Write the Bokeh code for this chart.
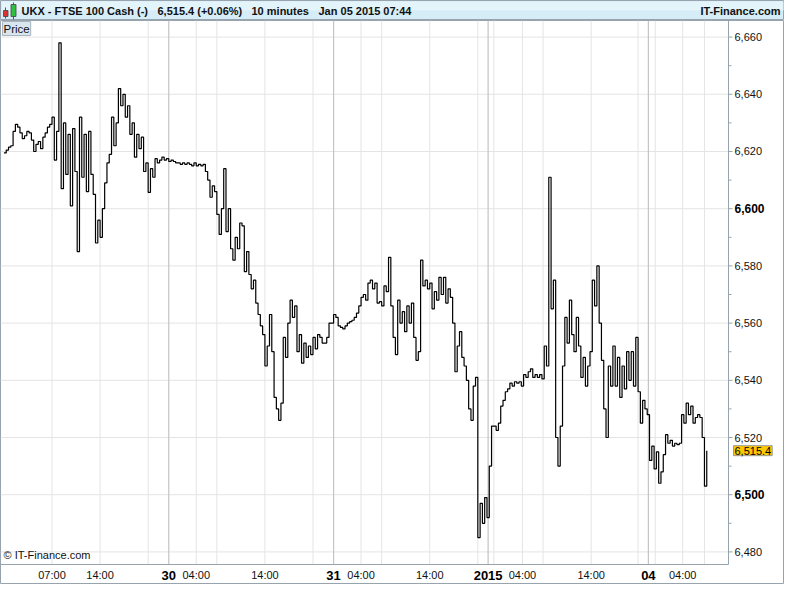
from bokeh.plotting import figure
from bokeh.models import Label, Range1d
from bokeh.layouts import column
from bokeh.core.properties import value
from bokeh.embed import file_html
from bokeh.resources import INLINE

# ---------------- data (10-minute bars, sampled every 20 minutes) ----------------
start_bar = 3          # bar index of the first sample (Dec 29, 00:00)
step_bars = 2          # 20 minutes per sample
price = [
    6619.5, 6620.5, 6621.5, 6622, 6627, 6629.5, 6628.5, 6626.5, 6624.5, 6625.5,
    6627, 6626.5, 6624, 6620, 6622.5, 6623.5, 6621, 6625, 6626.5, 6628.5,
    6629.5, 6632, 6617, 6627, 6658, 6607, 6630, 6612, 6626, 6601,
    6628, 6613, 6585, 6632, 6611, 6626, 6606, 6627, 6612, 6605,
    6588, 6596, 6590, 6600, 6609, 6616, 6619, 6632, 6622, 6630,
    6642, 6636, 6640, 6632, 6636, 6626, 6630, 6618, 6626, 6621,
    6625, 6613, 6616, 6605.7, 6614, 6611, 6617.5, 6616, 6617, 6618,
    6617, 6617.5, 6616.5, 6617, 6616.5, 6616, 6616, 6615.5, 6616, 6615.5,
    6616, 6615.5, 6615, 6616, 6615, 6615.5, 6615, 6615.5, 6613, 6610,
    6604, 6608, 6606, 6598, 6591, 6600, 6614, 6592, 6600, 6586,
    6582, 6590, 6586, 6595, 6594, 6578, 6585, 6577, 6572, 6575,
    6567, 6563, 6559, 6556, 6545, 6552, 6563, 6550, 6534, 6530,
    6526, 6532, 6555, 6548, 6560, 6568, 6562, 6566, 6550, 6556,
    6546, 6553, 6548, 6552, 6549, 6555, 6551, 6556, 6555, 6553,
    6553, 6555, 6560, 6560, 6563, 6562, 6559, 6558.5, 6558, 6559,
    6560, 6560.5, 6561, 6562, 6563.5, 6566, 6569, 6570, 6568, 6574,
    6575, 6572, 6574, 6567, 6567.5, 6566, 6573, 6571, 6583, 6566,
    6555, 6549, 6568, 6560, 6564, 6557, 6566, 6560, 6567, 6555,
    6547, 6550, 6582, 6573, 6575, 6572, 6574, 6565, 6571, 6568,
    6576, 6570, 6576, 6567, 6572, 6569, 6560, 6543, 6552, 6557,
    6548, 6545, 6540, 6530, 6526, 6538, 6541, 6485, 6497, 6490,
    6499, 6492, 6510, 6524, 6524, 6522.5, 6525, 6531, 6533, 6536,
    6537, 6539, 6538, 6539.5, 6539, 6539.5, 6538, 6542, 6541, 6543,
    6544, 6541, 6542, 6541, 6542, 6540.5, 6552, 6545, 6611, 6565,
    6575, 6520, 6510, 6524, 6545, 6562, 6553, 6568, 6556, 6550,
    6562, 6552, 6541, 6548, 6538, 6545, 6550, 6575, 6566, 6580,
    6560, 6547, 6530, 6520, 6545, 6538, 6552, 6538, 6548, 6534,
    6545, 6537, 6550, 6540, 6550, 6538, 6555, 6536, 6525, 6533,
    6530, 6528, 6512, 6517, 6509, 6515, 6504, 6508, 6514, 6521,
    6518, 6519, 6517, 6518, 6517.5, 6518, 6528, 6525, 6532, 6528,
    6531, 6525, 6527, 6528, 6527, 6520, 6503, 6515.4,
]
bars = [start_bar + step_bars * i for i in range(len(price))]
last_price = 6515.4

# vertical grid positions (bar index) and their labels
grid_bars = [45, 87, 129, 147, 171, 189, 231, 273, 291, 315, 333, 375,
             417, 426, 431, 456, 474, 516, 557, 566, 572, 596, 615]
time_labels = {45: "07:00", 87: "14:00", 171: "04:00", 231: "14:00",
               315: "04:00", 375: "14:00", 456: "04:00", 516: "14:00", 596: "04:00"}
day_labels = {147: "30", 291: "31", 426: "2015", 566: "04"}

y_ticks = [6480, 6500, 6520, 6540, 6560, 6580, 6600, 6620, 6640, 6660]
y_minor = [6490, 6510, 6530, 6550, 6570, 6590, 6610, 6630, 6650]
bold_y = [6600, 6500]

title_parts = ["UKX - FTSE 100 Cash (-)", "6,515.4 (+0.06%)", "10 minutes", "Jan 05 2015 07:44"]
brand = "IT-Finance.com"

FONT = value("Liberation Sans")
W = 784
H_MAIN = 564
CHART_W = 728      # width of the price area in px
CHART_H = 544      # height of the price area in px
X0, X1 = 0, 636
Y0, Y1 = 6475.6, 6665.8

xpp = (X1 - X0) / CHART_W          # bars per pixel
ypp = (Y1 - Y0) / CHART_H          # price units per pixel
XR = (X0, X0 + W * xpp)
YR = (Y1 - H_MAIN * ypp, Y1)

AXIS_C = "#98a4ad"
GRID_C = "#e4e4e4"
DAY_C = "#c4c4c4"

# ---------------- header ----------------
hdr = figure(width=W, height=20, x_range=Range1d(0, W), y_range=Range1d(0, 20),
             toolbar_location=None, output_backend="svg",
             x_axis_location=None, y_axis_location=None, min_border=0)
hdr.grid.visible = False
hdr.background_fill_color = "#d6edf7"
hdr.border_fill_color = "#d6edf7"
hdr.outline_line_color = AXIS_C
hdr.quad(left=[1], right=[W - 1], bottom=[10], top=[19],
         fill_color="#e3f4fb", line_color=None)
# candle icon
hdr.segment(x0=[5, 13], y0=[2, 1], x1=[5, 13], y1=[13, 18], line_color="#555555", line_width=1)
hdr.quad(left=[3, 10.5], right=[7.5, 15.5], bottom=[4, 4], top=[10, 16],
         fill_color=["#e03030", "#30c040"], line_color="#444444", line_width=0.8)
hdr.text(x=[21, 157, 251, 318], y=[9.5] * 4, text=title_parts,
         text_font=FONT, text_font_style="bold", text_font_size="11px",
         text_baseline="middle", text_color="#111111")
hdr.text(x=[W - 4], y=[9.5], text=[brand], text_align="right",
         text_font=FONT, text_font_style="bold", text_font_size="11px",
         text_baseline="middle", text_color="#111111")

# ---------------- main chart ----------------
p = figure(width=W, height=H_MAIN, x_range=Range1d(*XR), y_range=Range1d(*YR),
           toolbar_location=None, output_backend="svg",
           x_axis_location=None, y_axis_location=None, min_border=0)
p.grid.visible = False
p.background_fill_color = "white"
p.border_fill_color = "white"
p.outline_line_color = AXIS_C

# grid lines
reg_bars = [b for b in grid_bars if b not in day_labels]
day_bars = list(day_labels.keys())
p.segment(x0=reg_bars, y0=[Y0] * len(reg_bars), x1=reg_bars, y1=[Y1] * len(reg_bars),
          line_color=GRID_C, line_width=1)
p.segment(x0=[X0] * len(y_ticks), y0=y_ticks, x1=[X1] * len(y_ticks), y1=y_ticks,
          line_color=GRID_C, line_width=1)
p.segment(x0=day_bars, y0=[Y0] * len(day_bars), x1=day_bars, y1=[Y1] * len(day_bars),
          line_color=DAY_C, line_width=1.2)

# axes lines and ticks
p.segment(x0=[X1, X0], y0=[Y0, Y0], x1=[X1, X1], y1=[Y1, Y0], line_color=AXIS_C, line_width=1)
p.segment(x0=[X1] * len(y_ticks), y0=y_ticks, x1=[X1 + 4 * xpp] * len(y_ticks), y1=y_ticks,
          line_color=AXIS_C, line_width=1)
p.segment(x0=[X1] * len(y_minor), y0=y_minor, x1=[X1 + 3 * xpp] * len(y_minor), y1=y_minor,
          line_color=AXIS_C, line_width=1)

# price series
p.step(x=bars, y=price, mode="after", line_color="#000000", line_width=1.2)

# y tick labels
norm_y = [v for v in y_ticks if v not in bold_y]
p.text(x=[X1 + 6 * xpp] * len(norm_y), y=norm_y, text=[f"{v:,}" for v in norm_y],
       text_baseline="middle", text_font=FONT, text_font_size="11px", text_color="#111111")
p.text(x=[X1 + 6 * xpp] * len(bold_y), y=bold_y, text=[f"{v:,}" for v in bold_y],
       text_baseline="middle", text_font=FONT, text_font_size="12px",
       text_font_style="bold", text_color="#000000")

# x tick labels
lab_y = Y0 - 10.5 * ypp
tb = list(time_labels.keys())
p.text(x=tb, y=[lab_y] * len(tb), text=[time_labels[b] for b in tb], text_align="center",
       text_baseline="middle", text_font=FONT, text_font_size="11px", text_color="#111111")
p.text(x=day_bars, y=[lab_y] * len(day_bars), text=[day_labels[b] for b in day_bars],
       text_align="center", text_baseline="middle", text_font=FONT, text_font_size="13px",
       text_font_style="bold", text_color="#000000")

# last price marker
p.add_layout(Label(x=X1 + 5 * xpp, y=last_price, text=f"{last_price:,.1f}",
                   text_baseline="middle", text_font="Liberation Sans", text_font_size="11px",
                   text_color="#000000", background_fill_color="#fcc800",
                   border_line_color="#9a9a9a", padding=1))
# "Price" tag
p.add_layout(Label(x=X0 + 2 * xpp, y=Y1 - 1 * ypp, text="Price", text_baseline="top",
                   text_font="Liberation Sans", text_font_size="11.5px", text_color="#111111",
                   background_fill_color="#d9e6ef", border_line_color="#a8b4bd", padding=1))
# copyright
p.add_layout(Label(x=X0 + 3 * xpp, y=Y0 + 4 * ypp, text="\u00a9 IT-Finance.com",
                   text_baseline="bottom", text_font="Liberation Sans", text_font_size="11px",
                   text_color="#111111"))

layout = column(hdr, p, spacing=0)
open("out.html", "w").write(file_html(layout, INLINE))
